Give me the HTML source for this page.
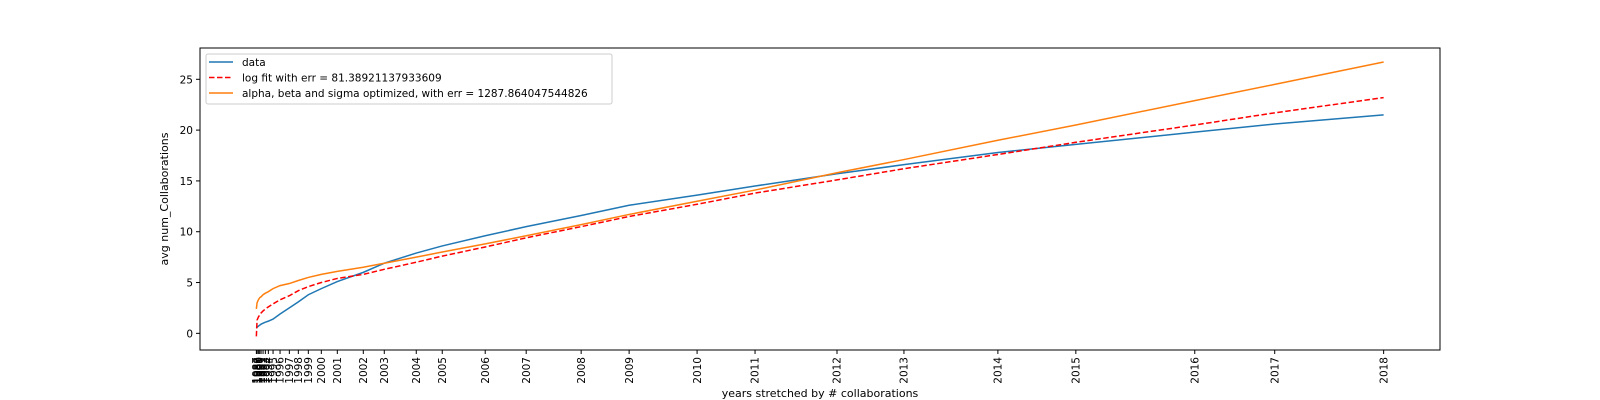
<!DOCTYPE html>
<html><head><meta charset="utf-8"><style>
html,body{margin:0;padding:0;background:#fff;}
svg{display:block;font-family:"DejaVu Sans","Liberation Sans",sans-serif;}
</style></head><body>
<svg id="chart" width="1600" height="400" xmlns="http://www.w3.org/2000/svg">
<rect x="200" y="48" width="1240" height="302" fill="#fff"/>
<g id="series"></g>
<rect x="200" y="48" width="1240" height="302" fill="none" stroke="#000" stroke-width="1"/>
<g id="axes"></g>
<text x="820" y="397" font-size="11" text-anchor="middle">years stretched by # collaborations</text>
<text transform="translate(168,199) rotate(-90)" font-size="11" text-anchor="middle">avg num_Collaborations</text>
<g>
<rect x="206" y="54" width="406" height="50" rx="2" fill="#fff" fill-opacity="0.8" stroke="#ccc"/>
<line x1="209" y1="62" x2="233" y2="62" stroke="#1f77b4" stroke-width="1.5"/>
<text x="242" y="66" font-size="10.5">data</text>
<line x1="209" y1="77.5" x2="233" y2="77.5" stroke="#ff0000" stroke-width="1.5" stroke-dasharray="5.5,2.5"/>
<text x="242" y="81.5" font-size="10.5">log fit with err = 81.38921137933609</text>
<line x1="209" y1="93" x2="233" y2="93" stroke="#ff7f0e" stroke-width="1.5"/>
<text x="242" y="97" font-size="10.5">alpha, beta and sigma optimized, with err = 1287.864047544826</text>
</g>
</svg>
<script>
const years = [1987,1988,1989,1990,1991,1992,1993,1994,1995,1996,1997,1998,1999,2000,2001,2002,2003,2004,2005,2006,2007,2008,2009,2010,2011,2012,2013,2014,2015,2016,2017,2018];
const cumCollabs = [0,0.7,2,3.3,4.7,6.7,9,12,16.7,23.7,33,42,52,65,81,107,128,160,186,229,270,325,373,441,499,581,648,742,820,939,1019,1128];
const dataValues = [0.5,0.6,0.7,0.8,0.9,1.0,1.1,1.2,1.4,1.9,2.5,3.1,3.8,4.4,5.1,6.0,6.9,7.9,8.6,9.6,10.5,11.6,12.6,13.6,14.5,15.7,16.6,17.8,18.6,19.8,20.6,21.5];
const logFitValues = [-0.3,1.3,1.6,1.8,2.0,2.2,2.4,2.6,2.9,3.3,3.7,4.2,4.6,5.0,5.4,5.8,6.3,7.0,7.6,8.5,9.4,10.5,11.5,12.7,13.8,15.1,16.2,17.6,18.8,20.5,21.7,23.2];
const optValues = [2.4,3.0,3.3,3.5,3.6,3.8,3.95,4.1,4.4,4.7,4.9,5.2,5.5,5.8,6.1,6.5,6.9,7.5,8.0,8.8,9.6,10.7,11.7,13.0,14.1,15.8,17.1,19.0,20.5,22.9,24.5,26.7];
const yTicks = [0,5,10,15,20,25];

const NS="http://www.w3.org/2000/svg";
const X0=200,X1=1440,Y0=350,Y1=48;
const xmin=-56.4,xmax=1184.4,ymin=-1.64,ymax=28.08;
function sx(v){return X0+(v-xmin)/(xmax-xmin)*(X1-X0);}
function sy(v){return Y0-(v-ymin)/(ymax-ymin)*(Y0-Y1);}
function mk(t,a){const e=document.createElementNS(NS,t);for(const k in a)e.setAttribute(k,a[k]);return e;}
const axes=document.getElementById('axes'),series=document.getElementById('series');
yTicks.forEach(v=>{
  const l=mk('line',{x1:X0-4,x2:X0,y1:sy(v),y2:sy(v),stroke:'#000'});
  
  
  axes.appendChild(l);
  const t=mk('text',{x:X0-7,y:sy(v)+4,'font-size':'10.5','text-anchor':'end'});
  
  
  t.textContent=v;axes.appendChild(t);
});
years.forEach((y,i)=>{
  const x=sx(cumCollabs[i]);
  const l=mk('line',{x1:x,x2:x,y1:Y0,y2:Y0+4,stroke:'#000'});
  
  
  axes.appendChild(l);
  const t=mk('text',{transform:`translate(${x+3.7},${Y0+7}) rotate(-90)`,'font-size':'10.5','text-anchor':'end'});
  
  
  t.textContent=y;axes.appendChild(t);
});
function path(vals,color,dash,name){
  const d=vals.map((v,i)=>(i?'L':'M')+sx(cumCollabs[i]).toFixed(2)+','+sy(v).toFixed(2)).join('');
  const p=mk('path',{d:d,fill:'none',stroke:color,'stroke-width':'1.5'});
  if(dash)p.setAttribute('stroke-dasharray',dash);
  
  
  series.appendChild(p);
}
path(dataValues,'#1f77b4',null,'data-line');
path(logFitValues,'#ff0000','5.5,2.5','log-fit-line');
path(optValues,'#ff7f0e',null,'optimized-fit-line');
</script>
</body></html>
